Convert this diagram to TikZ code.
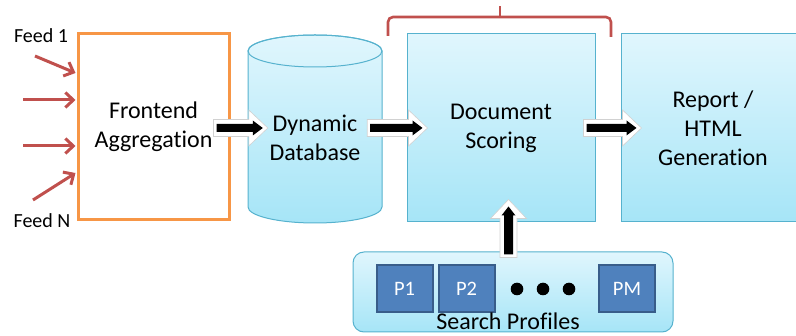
\documentclass[tikz,border=0pt]{standalone}
\usepackage{fontspec}
\setmainfont{Carlito}[Ligatures=NoCommon]
\usetikzlibrary{calc,arrows.meta}

\definecolor{orangeedge}{RGB}{247,150,70}
\definecolor{feedred}{RGB}{192,80,77}
\definecolor{boxedge}{RGB}{86,178,206}
\definecolor{boxtop}{RGB}{224,246,253}
\definecolor{boxbottom}{RGB}{166,229,247}
\definecolor{profilefill}{RGB}{79,129,189}
\definecolor{profileedge}{RGB}{56,93,138}

\tikzset{
  label text/.style={font=\fontsize{24}{29}\selectfont, align=center, text=black},
  stagebox/.style={draw=boxedge, line width=1pt, top color=boxtop, bottom color=boxbottom,
    minimum width=#1, minimum height=188pt, inner sep=0pt, label text},
  profilebox/.style={draw=profileedge, line width=2pt, fill=profilefill,
    minimum width=56pt, minimum height=47pt, inner sep=0pt,
    text=white, font=\fontsize{20.5}{24}\selectfont},
  feedarrow/.style={draw=feedred, line width=3pt, -{Straight Barb[length=8pt,width=15pt]}},
  % horizontal block arrow: shaft half-height, head half-height, head length, tail inset, tip inset
  hblock/.style n args={5}{to path={let \p1=(\tikztostart), \p2=(\tikztotarget) in
    (\x1+#4,\y1+#1) -- (\x2-#5-#3,\y1+#1) -- (\x2-#5-#3,\y1+#2) -- (\x2-#5,\y1)
    -- (\x2-#5-#3,\y1-#2) -- (\x2-#5-#3,\y1-#1) -- (\x1+#4,\y1-#1) -- cycle}},
  % upward block arrow, same parameters
  vblock/.style n args={5}{to path={let \p1=(\tikztostart), \p2=(\tikztotarget) in
    (\x1+#1,\y1+#4) -- (\x1+#1,\y2-#5-#3) -- (\x1+#2,\y2-#5-#3) -- (\x1,\y2-#5)
    -- (\x1-#2,\y2-#5-#3) -- (\x1-#1,\y2-#5-#3) -- (\x1-#1,\y1+#4) -- cycle}},
  outerh/.style={fill=white, draw=black!18, line width=0.6pt, line join=miter,
    hblock={8.5pt}{18pt}{19pt}{0pt}{0pt}},
  innerh/.style={fill=black, hblock={4pt}{7.5pt}{10pt}{3pt}{5pt}},
  outerv/.style={fill=white, draw=black!18, line width=0.6pt, line join=miter,
    vblock={8.5pt}{18pt}{19pt}{0pt}{0pt}},
  innerv/.style={fill=black, vblock={4.5pt}{7pt}{9pt}{3pt}{7pt}},
}

\begin{document}
\begin{tikzpicture}[x=1pt,y=-1pt]
\useasboundingbox (0,0) rectangle (796,336);

% frontend aggregation stage
\node[draw=orangeedge, line width=3pt, fill=white, minimum width=151pt, minimum height=186pt,
  inner sep=0pt, label text] (fe) at (153.5,127) {Frontend\\Aggregation};

% incoming feeds
\node[font=\fontsize{20}{24}\selectfont] (feed1) at (41,36) {Feed 1};
\node[font=\fontsize{20}{24}\selectfont] (feedn) at (42,221) {Feed N};
\coordinate (f1) at (35,56);
\coordinate (f2) at (23,100);
\coordinate (f3) at (23,146);
\coordinate (f4) at (33,200);
\draw[feedarrow] (f1) -- ($(fe.west)+(-1,-54)$);
\draw[feedarrow] (f2) -- ($(fe.west)+(-1,-27)$);
\draw[feedarrow] (f3) -- ($(fe.west)+(-1,19)$);
\draw[feedarrow] (f4) -- ($(fe.west)+(-1,46)$);

% dynamic database cylinder
\path[top color=boxtop, bottom color=boxbottom, draw=boxedge, line width=1pt]
  (248,51) -- (248,207) arc[start angle=180, end angle=360, x radius=67pt, y radius=16pt]
  -- (382,51) arc[start angle=0, end angle=180, x radius=67pt, y radius=16pt] -- cycle;
\draw[boxedge, line width=1pt] (315,51) ellipse [x radius=67pt, y radius=16pt];
\node[minimum width=134pt, minimum height=188pt, inner sep=0pt] (db) at (315,129) {};
\node[label text] (dbtext) at (315,137.5) {Dynamic\\Database};

% scoring and report stages
\node[stagebox=188pt] (ds) at (501,128) {Document\\Scoring};
\node[stagebox=184pt] (rg) at (713,128) {Report /\\HTML\\Generation};

% brace over the scoring stage
\draw[feedred, line width=2.6pt, rounded corners=5pt]
  (388,36) |- (500,17) -| (611,37);
\draw[feedred, line width=2.6pt] (500,18) -- (500,6);

% search profiles panel
\node[draw=boxedge, line width=1pt, rounded corners=11pt, top color=boxtop, bottom color=boxbottom,
  minimum width=320pt, minimum height=80pt, inner sep=0pt] (sp) at (513,292) {};
\node[profilebox] (p1) at (404.5,288.5) {P1};
\node[profilebox] (p2) at (466.5,288.5) {P2};
\node[profilebox] (pm) at (627,288.5) {PM};
\foreach \dx/\nm in {517/d1,543/d2,569/d3}
  \fill[black] (\dx,289) circle[radius=6.3pt] coordinate (\nm);
\node[label text, anchor=base] (sptext) at (508,330) {Search Profiles};

% block arrows between stages
\coordinate (a1s) at ($(fe.east)+(-17,1)$);
\coordinate (a1e) at ($(db.west)+(20,1)$);
\coordinate (a2s) at ($(db.east)+(-15,-1)$);
\coordinate (a2e) at ($(ds.west)+(21,-1)$);
\coordinate (a3s) at ($(ds.east)+(-12,0)$);
\coordinate (a3e) at ($(rg.west)+(21,0)$);
\coordinate (a4s) at ($(sp.north)+(-4.5,6)$);
\coordinate (a4e) at ($(ds.south)+(7.5,-23)$);
\foreach \s/\e in {a1s/a1e,a2s/a2e,a3s/a3e}{
  \path[outerh] (\s) to (\e);
  \path[innerh] (\s) to (\e);
}
\path[outerv] (a4s) to (a4e);
\path[innerv] (a4s) to (a4e);
\end{tikzpicture}
\end{document}
